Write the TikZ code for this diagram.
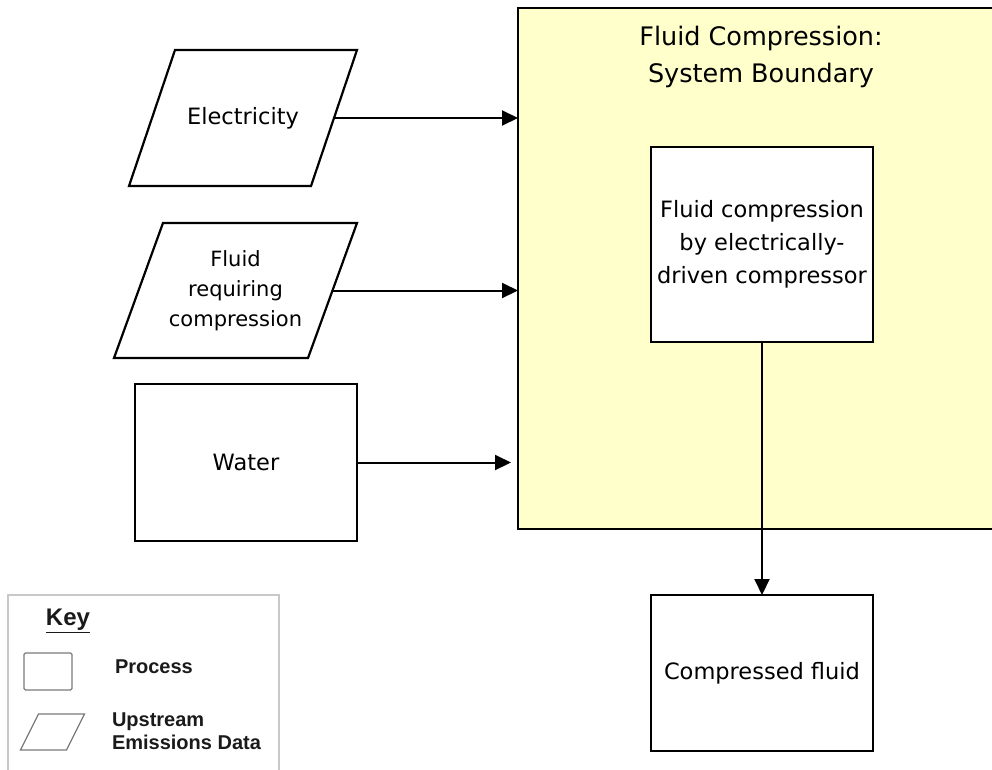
\documentclass[tikz,border=0pt]{standalone}
\usepackage{fontspec}
\setmainfont{DejaVu Sans}
\newfontfamily\keyfont{Liberation Sans}
\usetikzlibrary{arrows.meta}
\definecolor{sysyellow}{HTML}{FFFFCC}
\definecolor{keygray}{HTML}{7A7A7A}
\definecolor{keyframe}{HTML}{C8C8C8}
\definecolor{keytext}{HTML}{1A1A1A}
\begin{document}
\begin{tikzpicture}[x=1pt,y=-1pt,
  every node/.style={inner sep=0pt, outer sep=0pt},
  mainfont/.style={font=\fontsize{22.5}{33}\selectfont},
  procbox/.style={draw, line width=2.2pt, fill=white, minimum width=222pt, align=center, mainfont},
  datatext/.style={align=center, mainfont},
  dataline/.style={draw, line width=2.2pt, fill=white, line join=miter},
  flow/.style={line width=2pt, -{Triangle[length=16pt,width=15pt]}},
  keyfont/.style={font=\keyfont\bfseries\fontsize{20}{23}\selectfont, text=keytext},
]
\useasboundingbox (0,0) rectangle (992,769);
\clip (0,0) rectangle (992,769);
% system boundary
\node[draw, line width=2.6pt, fill=sysyellow, minimum width=482pt, minimum height=521pt] (sys) at (759,268.5) {};
\node[font=\fontsize{25.5}{37}\selectfont, align=center] (title) at (761,56.5) {Fluid Compression:\\System Boundary};
% process inside
\node[procbox, minimum height=195pt] (proc) at (762,244.5) {Fluid compression\\by electrically-\\driven compressor};
% inputs (parallelograms drawn around invisible text nodes)
\node[datatext, minimum width=182pt, minimum height=136pt] (elec) at (243,118) {};
\path[dataline] ([xshift=23pt]elec.north west) -- ([xshift=23pt]elec.north east) -- ([xshift=-23pt]elec.south east) -- ([xshift=-23pt]elec.south west) -- cycle;
\node[datatext] (electext) at (elec.center) {Electricity};
\node[datatext, minimum width=194pt, minimum height=135pt] (fluid) at (235.5,290.5) {};
\path[dataline] ([xshift=24.5pt]fluid.north west) -- ([xshift=24.5pt]fluid.north east) -- ([xshift=-24.5pt]fluid.south east) -- ([xshift=-24.5pt]fluid.south west) -- cycle;
\node[datatext, font=\fontsize{21}{30}\selectfont] (fluidtext) at (fluid.center) {Fluid\\requiring\\compression};
\node[procbox, minimum height=157pt] (water) at (246,462.5) {Water};
% output
\node[procbox, minimum height=156pt] (out) at (762,673) {Compressed fluid};
% flows
\draw[flow] (elec) -- (sys.west |- elec);
\draw[flow] (fluid) -- (sys.west |- fluid);
\draw[flow, shorten >=7pt] (water) -- (sys.west |- water);
\draw[flow] (proc) -- (out);
% key
\node[draw=keyframe, line width=1.2pt, minimum width=271pt, minimum height=220pt] (keybox) at (143.5,705) {};
\node[keyfont, font=\keyfont\bfseries\fontsize{24}{28}\selectfont] (keytitle) at (68,621) {\underline{Key}};
\node[draw=keygray, line width=1.3pt, rounded corners=1.5pt, minimum width=48pt, minimum height=37pt] (keyproc) at (48,671.5) {};
\node[keyfont, anchor=west] (keyproctext) at (115,667) {Process};
\node[minimum width=46pt, minimum height=36pt] (keydata) at (52.5,732) {};
\draw[keygray, line width=1.3pt] ([xshift=9pt]keydata.north west) -- ([xshift=9pt]keydata.north east) -- ([xshift=-9pt]keydata.south east) -- ([xshift=-9pt]keydata.south west) -- cycle;
\node[keyfont, anchor=west, align=left] (keydatatext) at (112,731.5) {Upstream\\Emissions Data};
\end{tikzpicture}
\end{document}
